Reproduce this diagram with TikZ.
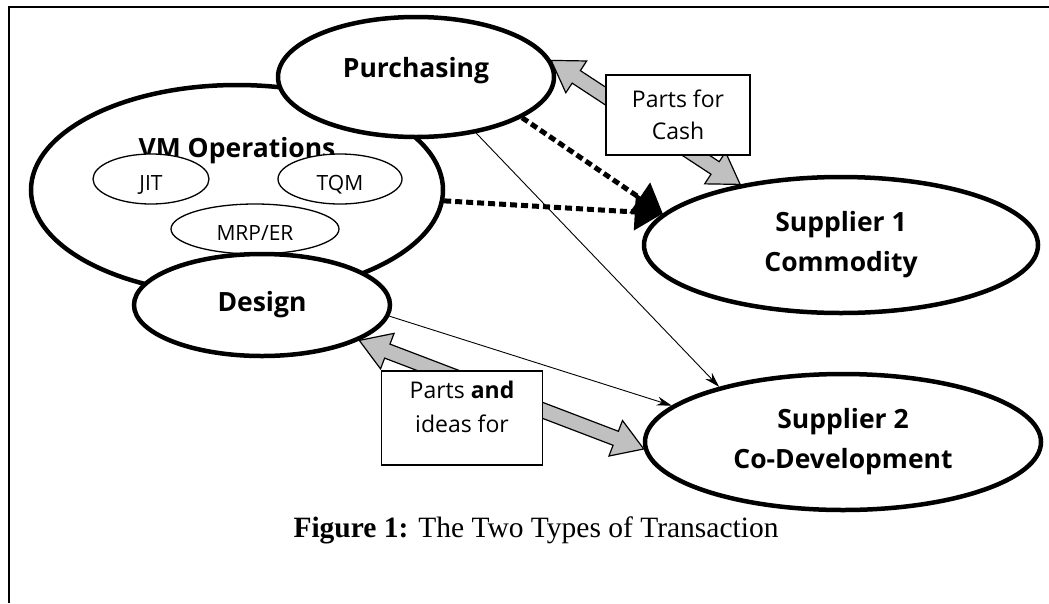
\documentclass[tikz,border=0pt]{standalone}
\usepackage{fontspec}
\setmainfont{Open Sans}
\newfontfamily\captionfont{Liberation Serif}
\usetikzlibrary{shapes.geometric, arrows.meta, positioning, calc}
\definecolor{arrowgrey}{RGB}{192, 192, 192}

% double headed grey block arrow between two points
\newcommand{\blockarrow}[2]{%
  \coordinate (ba-a) at (#1);
  \coordinate (ba-b) at (#2);
  \coordinate (ba-ha) at ($(ba-a)!30pt!(ba-b)$);
  \coordinate (ba-hb) at ($(ba-b)!30pt!(ba-a)$);
  \filldraw[blockfill] (ba-a) -- ($(ba-ha)!19pt!90:(ba-b)$) -- ($(ba-ha)!7.5pt!90:(ba-b)$)
     -- ($(ba-hb)!7.5pt!-90:(ba-a)$) -- ($(ba-hb)!19pt!-90:(ba-a)$) -- (ba-b)
     -- ($(ba-hb)!19pt!90:(ba-a)$) -- ($(ba-hb)!7.5pt!90:(ba-a)$)
     -- ($(ba-ha)!7.5pt!-90:(ba-b)$) -- ($(ba-ha)!19pt!-90:(ba-b)$) -- cycle;
}

\begin{document}
\begin{tikzpicture}[
    x=1pt, y=-1pt,
    bigell/.style={ellipse, draw, line width=4.5pt, fill=white, align=center,
                   inner sep=0pt, font=\bfseries\fontsize{26.5}{40}\selectfont},
    smallell/.style={ellipse, draw, line width=1.3pt, fill=white,
                     inner sep=0pt, font=\fontsize{21}{24}\selectfont},
    tagbox/.style={rectangle, draw, line width=1.5pt, fill=white, align=center,
                   inner sep=0pt, font=\fontsize{23}{32}\selectfont},
    thinarrow/.style={-{Stealth[length=15pt, width=9pt]}, line width=0.9pt},
    dotarrow/.style={-{Triangle[length=28pt, width=36pt]}, line width=5pt,
                     dash pattern=on 7pt off 4pt},
    blockfill/.style={fill=arrowgrey, draw=black, line width=1.2pt, line join=miter}
]
\useasboundingbox (0,0) rectangle (1049,603);

% frame
\draw[line width=2pt] (9,603) -- (9,7) -- (1049,7);

% VM side
\node[bigell, minimum width=412pt, minimum height=210pt] (vm) at (237,190) {\raisebox{33pt}[0pt][0pt]{VM Operations}};
\node[smallell, minimum width=116pt, minimum height=50pt] (jit) at (151,179) {\raisebox{-11pt}[0pt][0pt]{JIT}};
\node[smallell, minimum width=124pt, minimum height=50pt] (tqm) at (340,179) {\raisebox{-11pt}[0pt][0pt]{TQM}};
\node[smallell, minimum width=168pt, minimum height=50pt] (mrp) at (255,229) {\raisebox{-11pt}[0pt][0pt]{MRP/ER}};
\node[bigell, minimum width=276pt, minimum height=120pt] (purch) at (416,77) {\raisebox{0pt}[0pt][0pt]{Purchasing}};
\node[bigell, minimum width=256pt, minimum height=102pt] (design) at (262,305) {Design};

% Suppliers
\node[bigell, minimum width=394pt, minimum height=136pt] (s1) at (841,245) {Supplier 1\\Commodity};
\node[bigell, minimum width=396pt, minimum height=136pt] (s2) at (843,442) {Supplier 2\\Co-Development};

% Connections
\draw[dotarrow] (purch.-21) -- (s1.170);
\draw[dotarrow] (vm.-3) -- (s1.170);
\draw[thinarrow] (purch.-43) -- (s2.156);
\draw[thinarrow] (design.-5) -- (s2.168);
\blockarrow{purch.7}{s1.149}
\blockarrow{design.-20}{s2.-178}

% Exchange labels
\node[tagbox, minimum width=144pt, minimum height=80pt] (cash) at (678,115) {Parts for\\Cash};
\node[tagbox, minimum width=161pt, minimum height=94pt, font=\fontsize{23}{34}\selectfont] (ideas) at (462,418) {Parts \textbf{and}\\ideas for\\[-12pt]\mbox{}};

% caption
\node[font=\captionfont\fontsize{29.5}{34}\selectfont] (caption) at (536,530) {\textbf{Figure 1:} The Two Types of Transaction};

\end{tikzpicture}
\end{document}
